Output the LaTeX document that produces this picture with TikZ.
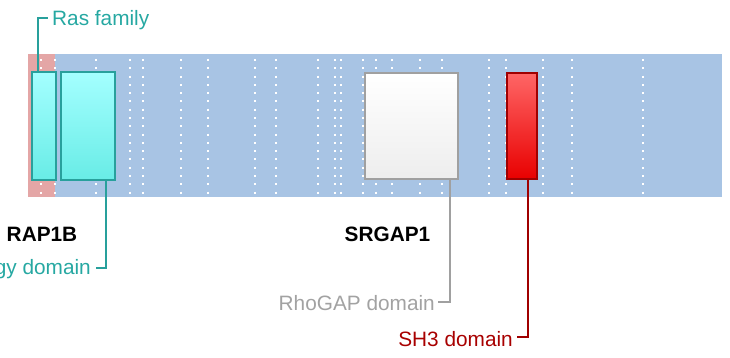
\documentclass[tikz,border=0pt]{standalone}
\usepackage{fontspec}
\setmainfont{Liberation Sans}
\begin{document}
\begin{tikzpicture}[x=1pt,y=-1pt,
  lbl/.style={font=\fontsize{20.8}{24}\selectfont, inner sep=0pt},
  domainbox/.style={draw, line width=2.2pt, inner sep=0pt, anchor=north west},
  conn/.style={line width=2.2pt}]
\definecolor{bandblue}{RGB}{168,196,228}
\definecolor{pinkbg}{RGB}{228,166,166}
\definecolor{tealline}{RGB}{40,160,156}
\definecolor{tealtext}{RGB}{38,168,162}
\definecolor{cyantop}{RGB}{164,255,255}
\definecolor{cyanbot}{RGB}{104,236,230}
\definecolor{greyline}{RGB}{160,160,160}
\definecolor{greytext}{RGB}{162,162,162}
\definecolor{redtop}{RGB}{255,102,102}
\definecolor{redbot}{RGB}{232,0,0}
\definecolor{redline}{RGB}{160,0,0}
\definecolor{redtext}{RGB}{168,0,0}
\useasboundingbox (0,0) rectangle (730,358);
\clip (0,0) rectangle (730,358);
% background band
\fill[bandblue] (28,54) rectangle (722,197);
\fill[pinkbg] (28,54) rectangle (55,197);
% dotted guide lines
\foreach \x in {40.7,55,96,130,143,181,208,255,276,318,335,341,363,376,392,420,442,489,506,543,572,643}
  \draw[white, line width=2pt, dash pattern=on 2pt off 6.29pt] (\x,59) -- (\x,195);
% box shadows
\fill[black, opacity=0.12] (33,73) rectangle (57,181);
\fill[black, opacity=0.12] (62,73) rectangle (116,181);
\fill[black, opacity=0.12] (366,74) rectangle (459,180);
\fill[black, opacity=0.12] (508,74) rectangle (538,180);
% domain boxes
\node[domainbox, draw=tealline, top color=cyantop, bottom color=cyanbot,
      minimum width=24pt, minimum height=108pt] (ras) at (31,71) {};
\node[domainbox, draw=tealline, top color=cyantop, bottom color=cyanbot,
      minimum width=54pt, minimum height=108pt] (gyd) at (60,71) {};
\node[domainbox, draw=greyline, top color=white, bottom color=white!93!black,
      minimum width=93pt, minimum height=106pt] (rhogap) at (364,72) {};
\node[domainbox, draw=redline, top color=redtop, bottom color=redbot,
      minimum width=30pt, minimum height=106pt] (sh3) at (506,72) {};
% labels
\node[lbl, text=tealtext, anchor=base west] (raslbl) at (52,26) {Ras family};
\node[lbl, font=\fontsize{20.8}{24}\selectfont\bfseries, anchor=base] (rap) at (42,241) {RAP1B};
\node[lbl, text=tealtext, anchor=base east] (gylbl) at (91,274) {gy domain};
\node[lbl, font=\fontsize{20.8}{24}\selectfont\bfseries, anchor=base] (srgap) at (387.5,241) {SRGAP1};
\node[lbl, text=greytext, anchor=base east] (rholbl) at (435,310) {RhoGAP domain};
\node[lbl, text=redtext, anchor=base east] (sh3lbl) at (513,346) {SH3 domain};
% elbows
\coordinate (e1) at (38,18);
\coordinate (e2) at (106,268);
\coordinate (e3) at (450,302);
\coordinate (e4) at (528,337);
% connectors
\draw[conn, tealline] (e1 |- ras.north) -- (e1) -- ([xshift=-4pt]raslbl.west |- e1);
\draw[conn, tealline] (e2 |- gyd.south) -- (e2) -- ([xshift=5pt]gylbl.east |- e2);
\draw[conn, greyline] (e3 |- rhogap.south) -- (e3) -- ([xshift=3pt]rholbl.east |- e3);
\draw[conn, redline] (e4 |- sh3.south) -- (e4) -- ([xshift=4pt]sh3lbl.east |- e4);
\end{tikzpicture}
\end{document}
